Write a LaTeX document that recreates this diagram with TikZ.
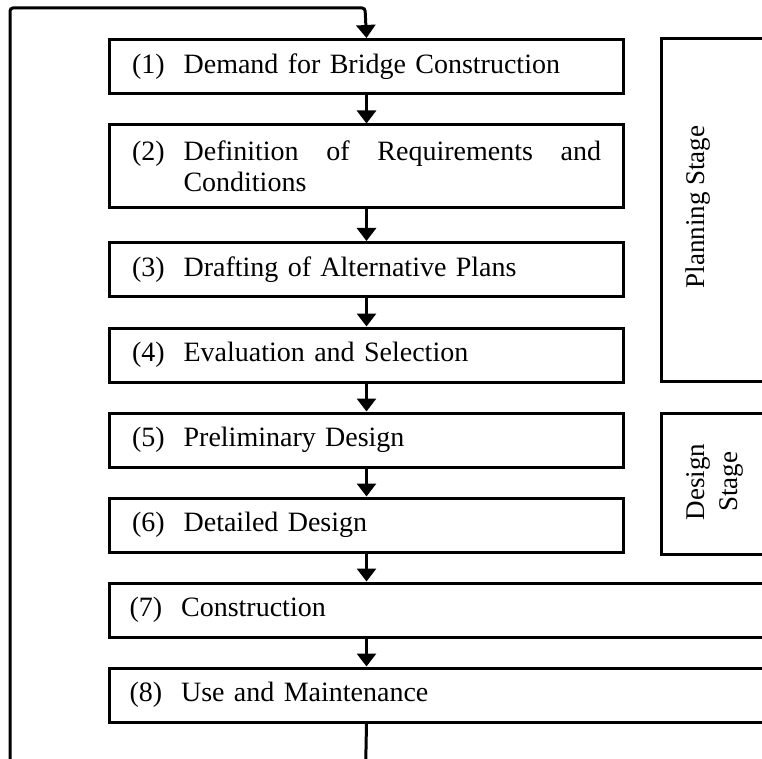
\documentclass[tikz,border=0pt]{standalone}
\usepackage{fontspec}
\setmainfont{Liberation Serif}
\usetikzlibrary{arrows.meta}
\begin{document}
\begin{tikzpicture}[x=1pt, y=-1pt, line width=3pt, >={Triangle[width=19pt,length=13pt]},
  stepbox/.style={draw, rectangle, anchor=west, minimum width=514pt, minimum height=54pt, text width=469pt, inner xsep=20pt, align=left, font=\fontsize{28}{31}\selectfont},
  widebox/.style={stepbox, minimum width=760pt, text width=720pt},
  stagebox/.style={draw, rectangle, anchor=north west, minimum width=140pt, inner sep=0pt},
  stagetext/.style={rotate=90, align=center, font=\fontsize{27}{33}\selectfont}]
\useasboundingbox (0,0) rectangle (762,759);
\clip (0,0) rectangle (762,759);
\node[stepbox] (a) at (108,66.5) {(1)\hspace{19pt}Demand for Bridge Construction};
\node[stepbox, minimum height=83pt] (b) at (108,166.5) {\makebox[469pt][s]{(2)\hspace{19pt}Definition\hfill of\hfill Requirements\hfill and}\\\hspace*{51.5pt}Conditions};
\node[stepbox] (c) at (108,269.5) {(3)\hspace{19pt}Drafting of Alternative Plans};
\node[stepbox] (d) at (108,355) {(4)\hspace{19pt}Evaluation and Selection};
\node[stepbox] (e) at (108,440) {(5)\hspace{19pt}Preliminary Design};
\node[stepbox] (f) at (108,525) {(6)\hspace{19pt}Detailed Design};
\node[widebox] (g) at (108,610) {(7)\hspace{19pt}Construction};
\node[widebox] (h) at (108,695) {(8)\hspace{19pt}Use and Maintenance};
\node[stagebox, minimum height=343pt] (plan) at (660,37) {};
\node[stagetext] (plantext) at (698,207) {Planning Stage};
\node[stagebox, minimum height=141pt] (des) at (660,412) {};
\node[stagetext] (destext) at (715,482) {Design\\Stage};
\draw[->] (a) -- (b);
\draw[->] (b) -- (c);
\draw[->] (c) -- (d);
\draw[->] (d) -- (e);
\draw[->] (e) -- (f);
\draw[->] (f.south) -- (f.south |- g.north);
\draw[->] (f.south |- g.south) -- (f.south |- h.north);
\draw[->, rounded corners=3pt] (a.south |- h.south) -- (365,800) -- (10,800) -- (10,8) -- (365,8) -- (a.north);
\end{tikzpicture}
\end{document}
